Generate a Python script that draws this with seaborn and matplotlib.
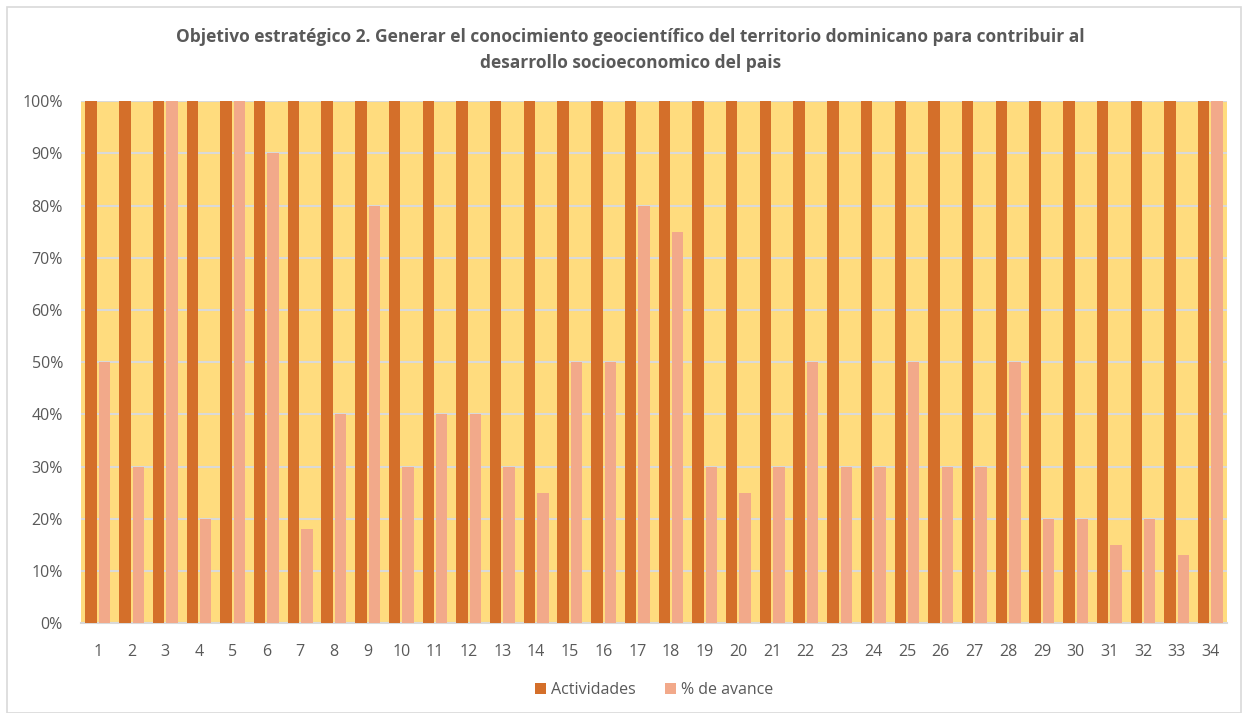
import matplotlib
matplotlib.use("Agg")
import matplotlib.pyplot as plt
import matplotlib.ticker as mticker
from matplotlib.patches import Rectangle
import seaborn as sns
import pandas as pd

categories = [str(i) for i in range(1, 35)]
actividades = [100] * 34
avance = [50, 30, 100, 20, 100, 90, 18, 40, 80, 30, 40, 40, 30, 25, 50, 50, 80, 75,
          30, 25, 30, 50, 30, 30, 50, 30, 30, 50, 20, 20, 15, 20, 13, 100]
series_names = ["Actividades", "% de avance"]
yticks = list(range(0, 101, 10))
title = ("Objetivo estratégico 2. Generar el conocimiento geocientífico del territorio dominicano para contribuir al\n"
         "desarrollo socioeconomico del pais")

df = pd.DataFrame({
    "cat": categories * 2,
    "val": actividades + avance,
    "serie": [series_names[0]] * 34 + [series_names[1]] * 34,
})

sns.set_theme(style="white")
plt.rcParams["font.family"] = ["Open Sans", "DejaVu Sans"]

fig = plt.figure(figsize=(12.46, 7.13), dpi=100)
ax = fig.add_axes([0.065, 0.126, 0.92, 0.732])
ax.set_facecolor("#FFDC7E")

palette = {series_names[0]: "#D46F2A", series_names[1]: "#F2A98A"}
sns.barplot(data=df, x="cat", y="val", hue="serie", order=categories,
            hue_order=series_names, palette=palette, width=0.8, gap=0.15,
            saturation=1, ax=ax, legend=True, zorder=3, linewidth=0,
            edgecolor="none")

ax.set_ylim(0, 100)
ax.set_xlim(-0.5, 33.5)
ax.set_yticks(yticks)
ax.yaxis.set_major_formatter(mticker.FuncFormatter(lambda v, p: f"{int(v)}%"))
ax.grid(axis="y", color="#D9D9D9", linewidth=1.5, zorder=1)
ax.set_axisbelow(True)
for s in ["top", "right", "left"]:
    ax.spines[s].set_visible(False)
ax.spines["bottom"].set_color("#D9D9D9")
ax.spines["bottom"].set_linewidth(1.5)
ax.tick_params(axis="both", length=0, labelsize=11.5, colors="#595959")
ax.tick_params(axis="x", pad=15)
ax.tick_params(axis="y", pad=13)
ax.set_xlabel("")
ax.set_ylabel("")

leg = ax.legend(loc="upper center", bbox_to_anchor=(0.5, -0.085), ncol=2, frameon=False,
                fontsize=11.5, handlelength=0.7, handleheight=0.7, handletextpad=0.3,
                columnspacing=1.8)
for t in leg.get_texts():
    t.set_color("#595959")

fig.text(0.506, 0.93, title, ha="center", va="center", fontsize=12.5,
         fontweight="bold", color="#595959", linespacing=1.6)

fig.patches.append(Rectangle((0.006, 0.0), 0.99, 0.99, transform=fig.transFigure,
                             fill=False, edgecolor="#D9D9D9", linewidth=1.2))

fig.savefig("out.png", dpi=100)
